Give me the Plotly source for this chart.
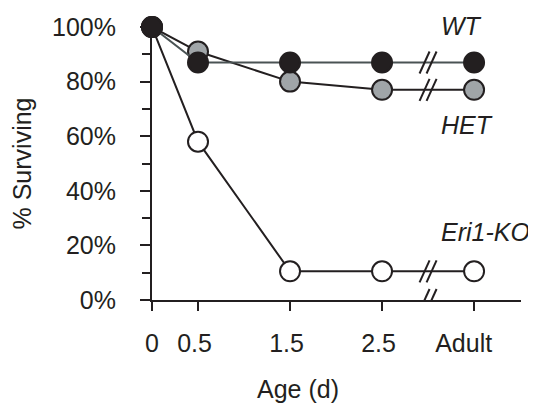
import plotly.graph_objects as go

# ---- data ----
age_labels = ['0', '0.5', '1.5', '2.5', 'Adult']
age_pos = [0, 0.5, 1.5, 2.5, 3.5]          # Adult placed after the axis break
wt = [100, 87, 87, 87, 87]
het = [100, 91, 80, 77, 77]
ko = [100, 58, 10.5, 10.5, 10.5]
series_names = ['Eri1-KO', 'HET', 'WT']
break_pos = 3.0
y_ticks = [0, 20, 40, 60, 80, 100]
y_tick_labels = ['0%', '20%', '40%', '60%', '80%', '100%']

FONT = 'Liberation Sans, Arial, Helvetica, sans-serif'
INK = '#231f20'
FS = 25

styles = {
    'Eri1-KO': dict(fill='white', line=INK, vals=ko),
    'HET': dict(fill='#a0a5a8', line=INK, vals=het),
    'WT': dict(fill=INK, line='#4a5354', vals=wt),
}

fig = go.Figure()
for name in series_names:
    s = styles[name]
    fig.add_trace(go.Scatter(
        x=age_pos, y=s['vals'], mode='lines+markers', name=name,
        line=dict(color=s['line'], width=2),
        marker=dict(size=20, color=s['fill'], line=dict(color=INK, width=2)),
        cliponaxis=False, showlegend=False,
    ))

# break marks on each series and on the x axis
shapes = []
for yv in [ko[-1], het[-1], wt[-1], 0]:
    for cx in (-3.5, 3.5):
        shapes.append(dict(
            type='line', xref='x', yref='y',
            xsizemode='pixel', ysizemode='pixel',
            xanchor=break_pos, yanchor=yv,
            x0=cx - 5, x1=cx + 5, y0=-11, y1=11,
            line=dict(color=INK, width=2),
        ))

label_font = dict(size=FS, family=FONT, color=INK)
annotations = [
    dict(text='<i>WT</i>', x=0.840, y=1.005, xref='paper', yref='paper', showarrow=False,
         xanchor='center', yanchor='middle', font=label_font),
    dict(text='<i>HET</i>', x=0.854, y=0.641, xref='paper', yref='paper', showarrow=False,
         xanchor='center', yanchor='middle', font=label_font),
    dict(text='<i>Eri1-KO</i>', x=0.905, y=0.249, xref='paper', yref='paper', showarrow=False,
         xanchor='center', yanchor='middle', font=label_font),
    dict(text='Age (d)', x=0.397, y=-0.325, xref='paper', yref='paper', showarrow=False,
         xanchor='center', yanchor='middle', font=label_font),
]

# slight leftward offset of tick labels, as in the original artwork
label_pad = [0, 1, 1, 1, 3]
tick_text = [lbl + '\u00a0' * p for lbl, p in zip(age_labels, label_pad)]

fig.update_layout(
    width=536, height=403,
    margin=dict(l=144, r=23, t=19, b=111),
    paper_bgcolor='white', plot_bgcolor='white',
    font=dict(family=FONT, size=FS, color=INK),
    shapes=shapes, annotations=annotations,
    xaxis=dict(
        range=[0, 4.01], tickvals=age_pos, ticktext=tick_text,
        showline=True, linecolor=INK, linewidth=2,
        ticks='outside', ticklen=9, tickwidth=2, tickcolor=INK,
        showgrid=False, zeroline=False, ticklabelstandoff=11,
        tickfont=label_font, automargin=False,
    ),
    yaxis=dict(
        range=[0, 100], tickvals=y_ticks, ticktext=y_tick_labels,
        showline=True, linecolor=INK, linewidth=2,
        ticks='outside', ticklen=10, tickwidth=2, tickcolor=INK,
        minor=dict(dtick=10, ticks='outside', ticklen=8, tickwidth=2, tickcolor=INK, showgrid=False),
        showgrid=False, zeroline=False, ticklabelstandoff=19,
        tickfont=label_font, automargin=False,
        title=dict(text='% Surviving', standoff=17, font=label_font),
    ),
)

fig.write_html('out.html')
